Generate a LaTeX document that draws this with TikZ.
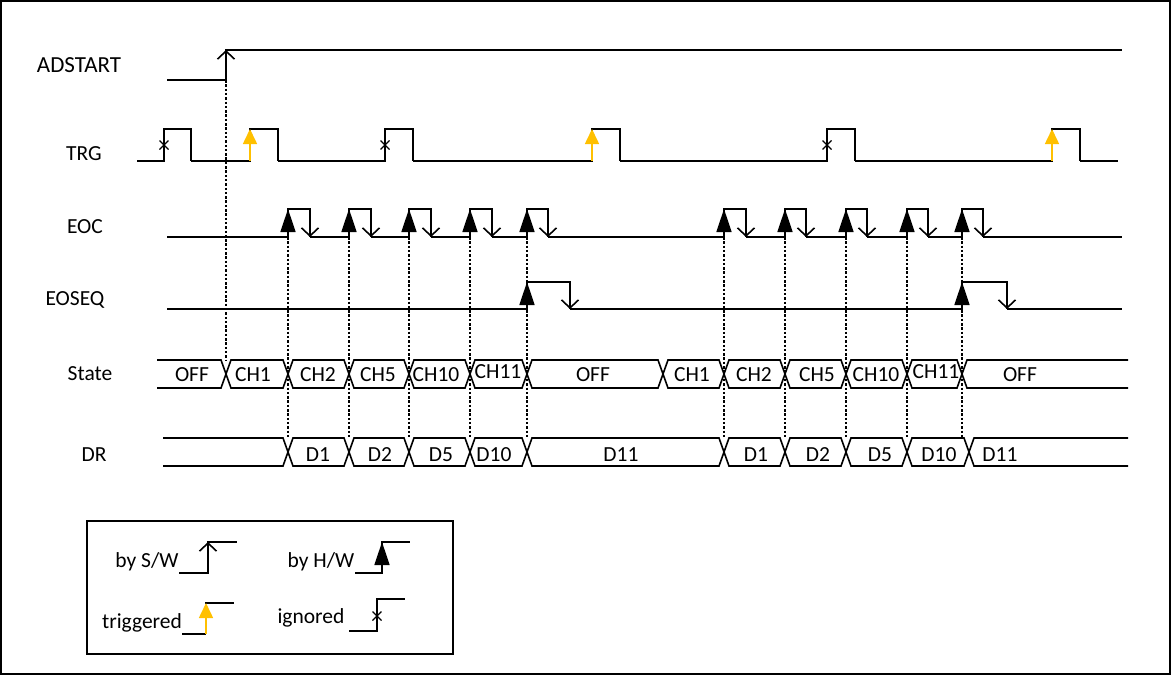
\documentclass[tikz,border=0pt]{standalone}
\usepackage{fontspec}
\setmainfont{Carlito}
\usetikzlibrary{arrows.meta}
\definecolor{trgyellow}{RGB}{255,192,0}

\tikzset{
  sig/.style={line width=1.6pt, line join=miter},
  sync/.style={line width=1.5pt, dash pattern=on 2.5pt off 1.8pt},
  swedge/.style={sig, -{Straight Barb[length=8pt,width=17pt]}},
  hwedge/.style={sig, -{Triangle[length=23pt,width=15pt]}},
  trgedge/.style={sig, trgyellow, -{Triangle[length=15pt,width=14pt]}},
  lbl/.style={font=\fontsize{21.5}{25}\selectfont, inner sep=0pt, anchor=base},
}
\newcommand{\ignmark}[2]{\draw[line width=1.3pt] (#1-4.5,#2-4.5) -- (#1+4.5,#2+4.5) (#1-4.5,#2+4.5) -- (#1+4.5,#2-4.5);}

\begin{document}
\begin{tikzpicture}[x=1pt, y=-1pt]
    \useasboundingbox (0,0) rectangle (1171,675);
    \draw[line width=1.2pt] (1,1) rectangle (1170,674);

    % Signal names
    \node[lbl, font=\fontsize{23}{27}\selectfont] (adstart) at (79,72) {ADSTART};
    \node[lbl] (trg) at (84,160) {TRG};
    \node[lbl] (eoc) at (85,233) {EOC};
    \node[lbl] (eoseq) at (75,305) {EOSEQ};
    \node[lbl] (state) at (90,380) {State};
    \node[lbl] (dr) at (94,461) {DR};

    % Sync lines
    \draw[sync] (226,80) -- (226,360);
    \foreach \x in {288,349,409,470,527,724,785,846,907,962}
        \draw[sync] (\x,237) -- (\x,438);

    % ADSTART
    \draw[sig] (167,80) -- (226,80) -- (226,50) -- (1122,50);
    \draw[swedge] (226,80) -- (226,50);

    % TRG
    \foreach [remember=\f as \pf (initially 137)] \r/\f in {164/191,250/278,385/413,592/620,827/855,1052/1080}
        \draw[sig] (\pf,161) -- (\r,161) -- (\r,129) -- (\f,129) -- (\f,161);
    \draw[sig] (1080,161) -- (1118,161);
    \foreach \r in {250,592,1052}
        \draw[trgedge] (\r,161) -- (\r,129);
    \foreach \r in {164,385,827}
        {\ignmark{\r}{145}}

    % EOC
    \foreach [remember=\f as \pf (initially 167)] \r/\f in {288/310,349/371,409/431,470/492,527/548,724/746,785/806,846/867,907/928,962/983} {
        \draw[sig] (\pf,237) -- (\r,237) -- (\r,209) -- (\f,209) -- (\f,237);
        \draw[hwedge] (\r,237) -- (\r,209);
        \draw[swedge] (\f,209) -- (\f,237);
    }
    \draw[sig] (983,237) -- (1122,237);

    % EOSEQ
    \foreach [remember=\f as \pf (initially 167)] \r/\f in {527/570,962/1007} {
        \draw[sig] (\pf,309) -- (\r,309) -- (\r,282) -- (\f,282) -- (\f,309);
        \draw[hwedge] (\r,309) -- (\r,282);
        \draw[swedge] (\f,282) -- (\f,309);
    }
    \draw[sig] (1007,309) -- (1122,309);

    % State bus
    \draw[sig] (157,360) -- (221,360) -- (226,374) -- (221,388) -- (157,388);
    \foreach [remember=\b as \a (initially 226)] \b in {288,349,409,470,527,663,724,785,846,907,962}
        \draw[sig] (\a,374) -- (\a+5,360) -- (\b-5,360) -- (\b,374) -- (\b-5,388) -- (\a+5,388) -- cycle;
    \draw[sig] (1128,360) -- (967,360) -- (962,374) -- (967,388) -- (1128,388);
    \foreach [count=\i] \t/\x/\y in {OFF/192/381,CH1/253/381,CH2/318/381,CH5/378/381,CH10/436/381,CH11/498/378,OFF/593/381,CH1/692/381,CH2/754/381,CH5/817/381,CH10/876/381,CH11/936/378,OFF/1020/381}
        \node[lbl] (st\i) at (\x,\y) {\t};

    % DR bus
    \draw[sig] (163,438) -- (283,438) -- (288,452) -- (283,466) -- (163,466);
    \foreach [remember=\b as \a (initially 288)] \b in {349,409,470,527,724,785,846,907,969}
        \draw[sig] (\a,452) -- (\a+5,438) -- (\b-5,438) -- (\b,452) -- (\b-5,466) -- (\a+5,466) -- cycle;
    \draw[sig] (1128,438) -- (974,438) -- (969,452) -- (974,466) -- (1128,466);
    \foreach [count=\i] \t/\x in {D1/318,D2/380,D5/441,D10/494,D11/621,D1/756,D2/818,D5/880,D10/939,D11/1000}
        \node[lbl] (dr\i) at (\x,461) {\t};

    % Legend
    \draw[line width=1.6pt] (87,521) rectangle (453,654);
    \node[lbl] (bysw) at (147,567) {by S/W};
    \draw[sig] (179,573) -- (208,573) -- (208,542) -- (237,542);
    \draw[swedge] (208,573) -- (208,542);
    \node[lbl] (byhw) at (321,567) {by H/W};
    \draw[sig] (355,573) -- (382,573) -- (382,542) -- (410,542);
    \draw[hwedge] (382,573) -- (382,542);
    \node[lbl] (triggered) at (142,628) {triggered};
    \draw[sig] (182,634) -- (206,634);
    \draw[sig] (205,603) -- (234,603);
    \draw[trgedge] (206,634) -- (206,603);
    \node[lbl] (ignored) at (311,623) {ignored};
    \draw[sig] (349,631) -- (377,631) -- (377,599) -- (405,599);
    \ignmark{377}{616}
\end{tikzpicture}
\end{document}
